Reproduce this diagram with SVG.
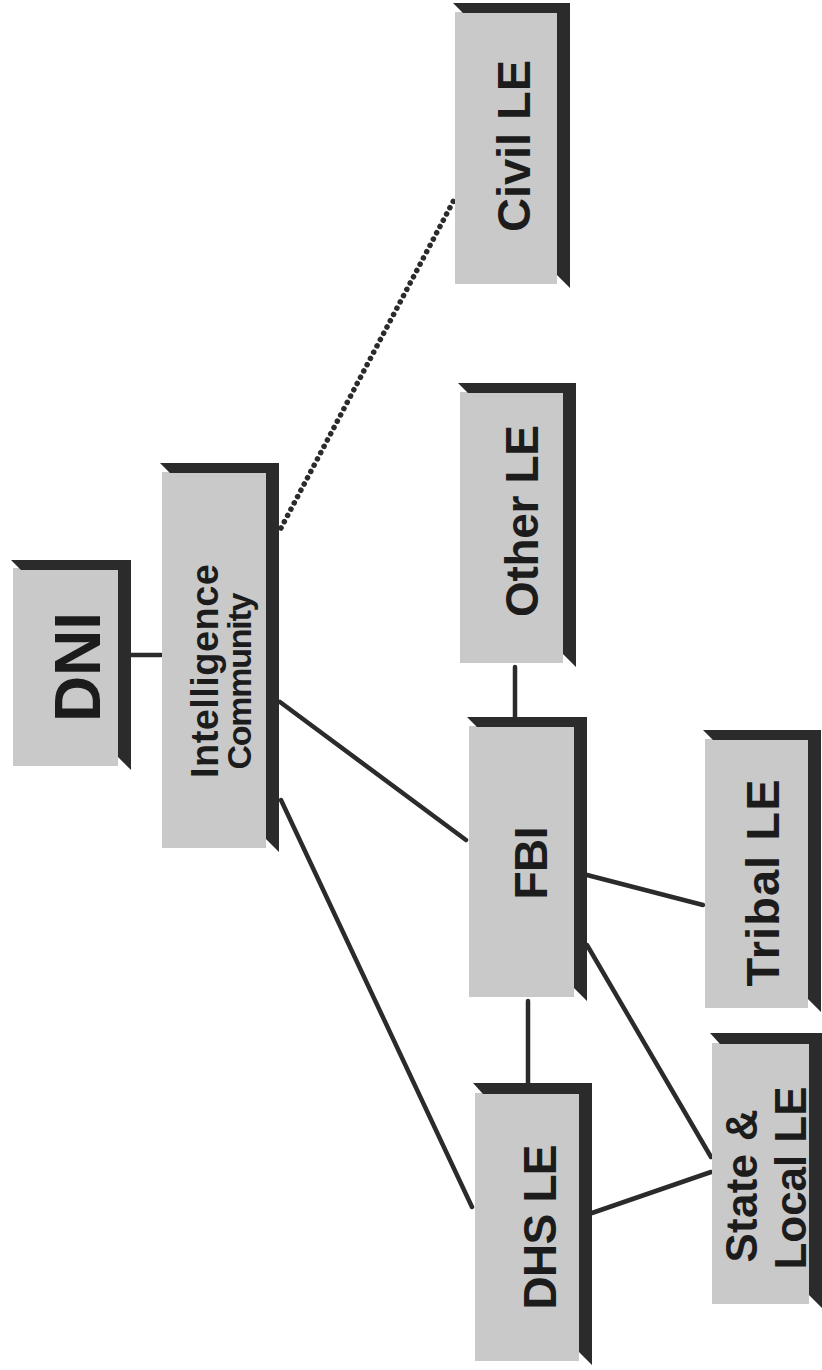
<svg xmlns="http://www.w3.org/2000/svg" width="822" height="1370" viewBox="0 0 822 1370">
<style>
.bg{fill:#ffffff}
.fill{fill:#c9c9c9}
.frame{fill:#2b2b2b}
.lbl{font-family:"Liberation Sans",Arial,sans-serif;font-weight:bold;fill:#1c1c1c;text-anchor:middle}
.conn{stroke:#2b2b2b;stroke-width:4.5;fill:none;stroke-linecap:round}
.dot{stroke:#2b2b2b;stroke-width:5.5;fill:none;stroke-linecap:round;stroke-dasharray:0.1 7}
</style>
<rect class="bg" x="0" y="0" width="822" height="1370"/>

<g id="connectors">
<line class="conn" x1="131" y1="655" x2="161" y2="655"/>
<line class="dot" x1="281" y1="528" x2="455" y2="198"/>
<line class="conn" x1="280" y1="702" x2="466" y2="840"/>
<line class="conn" x1="281" y1="800" x2="472" y2="1207"/>
<line class="conn" x1="515" y1="667" x2="515" y2="717"/>
<line class="conn" x1="528" y1="1001" x2="528" y2="1083"/>
<line class="conn" x1="587" y1="875" x2="703" y2="905"/>
<line class="conn" x1="587" y1="945" x2="711" y2="1157"/>
<line class="conn" x1="592" y1="1213" x2="711" y2="1172"/>
</g>

<g id="node-dni">
<rect class="fill" x="13" y="568" width="105" height="198"/>
<polygon class="frame" points="11,560 131,560 131,770 118,757 118,570 21,570"/>
<text class="lbl" font-size="64" transform="translate(100,667) rotate(-90)">DNI</text>
</g>

<g id="node-ic">
<rect class="fill" x="162" y="472" width="104" height="376"/>
<polygon class="frame" points="160,463 279,463 279,852 266,839 266,473 170,473"/>
<text class="lbl" font-size="38" textLength="214" transform="translate(218,671) rotate(-90)">Intelligence</text>
<text class="lbl" font-size="34" textLength="177" transform="translate(251,681) rotate(-90)">Community</text>
</g>

<g id="node-civil">
<rect class="fill" x="455" y="12" width="102" height="272"/>
<polygon class="frame" points="453,3 570,3 570,288 557,275 557,13 463,13"/>
<text class="lbl" font-size="47" textLength="172" transform="translate(530,146) rotate(-90)">Civil LE</text>
</g>

<g id="node-other">
<rect class="fill" x="460" y="392" width="103" height="271"/>
<polygon class="frame" points="458,383 576,383 576,667 563,654 563,393 468,393"/>
<text class="lbl" font-size="46" textLength="192" transform="translate(538,521) rotate(-90)">Other LE</text>
</g>

<g id="node-fbi">
<rect class="fill" x="469" y="726" width="105" height="271"/>
<polygon class="frame" points="467,717 587,717 587,1001 574,988 574,727 477,727"/>
<text class="lbl" font-size="46" textLength="73" transform="translate(547,863) rotate(-90)">FBI</text>
</g>

<g id="node-dhs">
<rect class="fill" x="475" y="1093" width="104" height="268"/>
<polygon class="frame" points="473,1083 592,1083 592,1365 579,1352 579,1094 483,1094"/>
<text class="lbl" font-size="46" textLength="165" transform="translate(556,1227) rotate(-90)">DHS LE</text>
</g>

<g id="node-tribal">
<rect class="fill" x="705" y="739" width="103" height="269"/>
<polygon class="frame" points="703,730 821,730 821,1012 808,999 808,740 713,740"/>
<text class="lbl" font-size="47" textLength="207" transform="translate(779,883) rotate(-90)">Tribal LE</text>
</g>

<g id="node-state">
<rect class="fill" x="712" y="1043" width="97" height="261"/>
<polygon class="frame" points="710,1033 822,1033 822,1308 809,1295 809,1044 720,1044"/>
<text class="lbl" font-size="44" textLength="153" transform="translate(757,1186) rotate(-90)">State &amp;</text>
<text class="lbl" font-size="44" textLength="183" transform="translate(806,1178) rotate(-90)">Local LE</text>
</g>
</svg>
